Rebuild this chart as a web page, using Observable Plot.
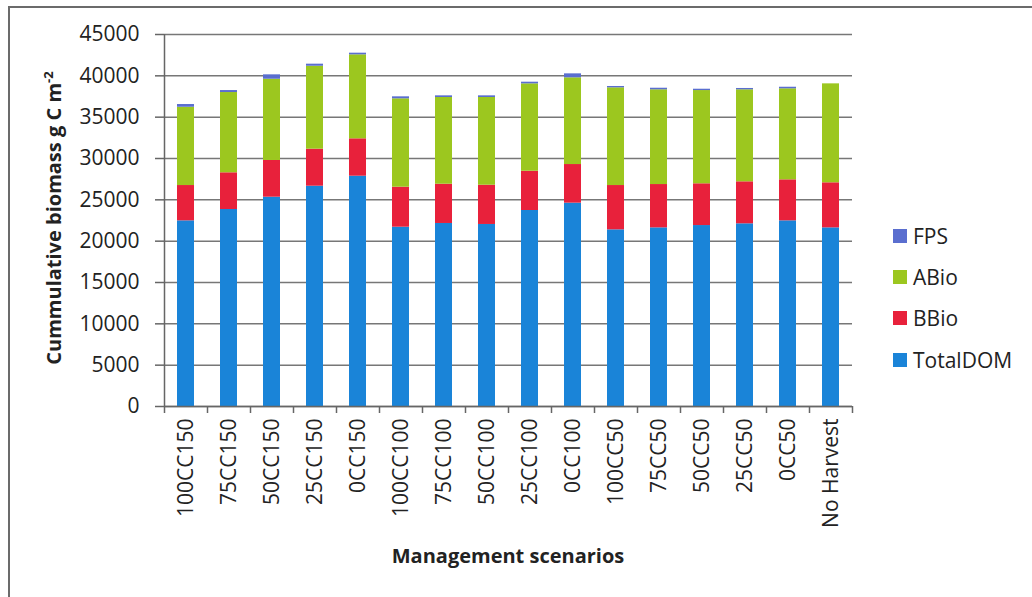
<!DOCTYPE html>
<html><head><meta charset="utf-8">
<script src="https://cdn.jsdelivr.net/npm/d3@7"></script>
<script src="https://cdn.jsdelivr.net/npm/@observablehq/plot@0.6"></script>
<style>
html,body{margin:0;padding:0;background:#fff;}
#wrap{position:relative;width:1032px;height:597px;overflow:hidden;font-family:"Open Sans",sans-serif;color:#222;}
#border{position:absolute;left:8px;top:6px;width:1100px;height:700px;border:2px solid #6b6b6b;box-sizing:border-box;}
#chart{position:absolute;left:0;top:0;}
.ytitle{position:absolute;left:53px;top:218px;transform:translate(-50%,-50%) rotate(-90deg);font-weight:bold;font-size:20px;white-space:nowrap;}
.ytitle sup{font-size:13px;vertical-align:8px;line-height:0;}
.xtitle{position:absolute;left:508px;top:555px;transform:translate(-50%,-50%);font-weight:bold;font-size:20px;white-space:nowrap;}
.leg{position:absolute;left:893px;display:flex;align-items:center;font-size:21px;transform:translateY(-50%);white-space:nowrap;}
.leg span.sw{display:inline-block;width:14px;height:14px;margin-right:6px;}
</style>
</head><body>
<div id="wrap">
  <div id="border"></div>
  <div id="chart"></div>
  <div class="ytitle">Cummulative biomass g C m<sup>-2</sup></div>
  <div class="xtitle">Management scenarios</div>
  <div id="legend"></div>
</div>
<script>
const categories = ["100CC150","75CC150","50CC150","25CC150","0CC150","100CC100","75CC100","50CC100","25CC100","0CC100","100CC50","75CC50","50CC50","25CC50","0CC50","No Harvest"];
const totalDOM = [22460,23830,25320,26650,27860,21690,22140,22020,23710,24600,21370,21610,21890,22100,22460,21610];
const bBio     = [4270,4440,4440,4480,4520,4840,4750,4750,4750,4670,5360,5240,5050,5080,4960,5450];
const aBio     = [9470,9710,9830,10030,10160,10690,10490,10610,10570,10490,11820,11460,11280,11130,11010,11970];
const fps      = [330,240,530,250,200,240,200,200,200,480,160,190,160,160,190,0];
const seriesNames = ["TotalDOM","BBio","ABio","FPS"];
const seriesColors = ["#1a84d8","#e8213b","#9cc71f","#5a6ecf"];
const legendOrder = ["FPS","ABio","BBio","TotalDOM"];
const yTicks = [0,5000,10000,15000,20000,25000,30000,35000,40000,45000];

const seriesValues = [totalDOM,bBio,aBio,fps];
const table = [];
seriesValues.forEach((arr,si)=>arr.forEach((v,i)=>table.push({scenario:categories[i],series:seriesNames[si],value:v})));

const W=1032,H=597,mL=164,mR=180,mT=34,mB=191;
const step=(W-mL-mR)/categories.length;

const plot = Plot.plot({
  width:W,height:H,marginLeft:mL,marginRight:mR,marginTop:mT,marginBottom:mB,
  style:{fontFamily:"Open Sans, sans-serif",fontSize:"21px",color:"#222",background:"transparent",overflow:"visible"},
  x:{domain:categories,paddingInner:0.6,paddingOuter:0.3,label:null},
  y:{domain:[0,45000],label:null},
  color:{domain:seriesNames,range:seriesColors},
  marks:[
    Plot.gridY(yTicks,{stroke:"#777",strokeOpacity:1,strokeWidth:1.5}),
    Plot.barY(table,{x:"scenario",y:"value",fill:"series"}),
    Plot.axisY(yTicks,{tickSize:9,tickPadding:16,tickFormat:d=>String(d),stroke:"#666",strokeWidth:1.5,label:null,fontSize:21}),
    Plot.axisX({tickSize:0,tickRotate:-90,tickPadding:12,label:null,fontSize:21}),
    Plot.axisX({tickSize:7,dx:step/2,tickFormat:()=>"",label:null,stroke:"#666",strokeWidth:1.5}),
    Plot.ruleX([categories[0]],{dx:-step/2,stroke:"#666",strokeWidth:1.5,insetBottom:-7}),
    Plot.ruleY([0],{stroke:"#666",strokeWidth:1.5})
  ]
});
document.getElementById("chart").appendChild(plot);

const legendY = {FPS:236,ABio:277,BBio:318,TotalDOM:360};
const leg = document.getElementById("legend");
legendOrder.forEach(name=>{
  const d=document.createElement("div");
  d.className="leg";
  d.style.top=legendY[name]+"px";
  d.innerHTML=`<span class="sw" style="background:${seriesColors[seriesNames.indexOf(name)]}"></span>${name}`;
  leg.appendChild(d);
});
</script>
</body></html>
